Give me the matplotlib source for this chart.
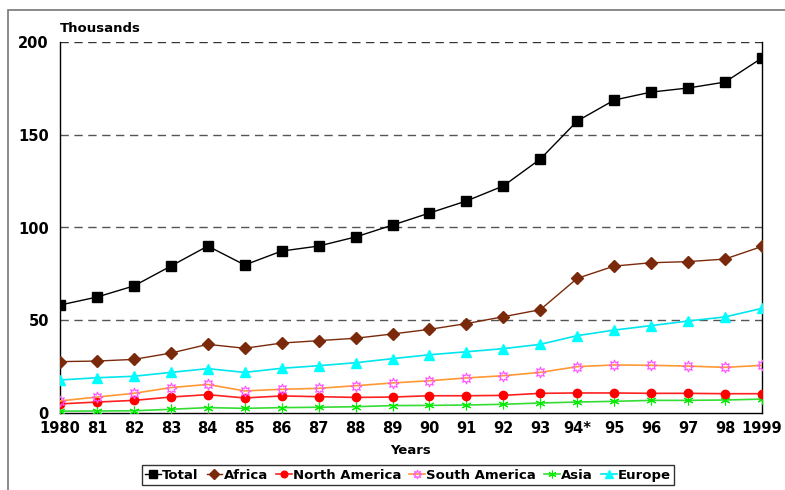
import matplotlib
matplotlib.use('Agg')
import matplotlib.pyplot as plt
from matplotlib.patches import Rectangle

years = ['1980', '81', '82', '83', '84', '85', '86', '87', '88', '89',
         '90', '91', '92', '93', '94*', '95', '96', '97', '98', '1999']

total = [58.2, 62.5, 68.5, 79.2, 90.0, 79.8, 87.3, 90.0, 94.9, 101.3,
         107.8, 114.3, 122.4, 136.9, 157.4, 168.7, 173.0, 175.2, 178.4, 191.4]
africa = [27.7, 28.0, 28.9, 32.3, 37.0, 34.9, 37.7, 39.0, 40.3, 42.6,
          45.1, 48.2, 51.9, 55.7, 72.6, 79.2, 81.0, 81.6, 83.0, 89.8]
north_america = [4.9, 5.9, 6.8, 8.6, 9.9, 8.1, 9.2, 8.8, 8.4, 8.6,
                 9.3, 9.3, 9.5, 10.6, 10.8, 10.8, 10.6, 10.6, 10.4, 10.4]
south_america = [6.5, 8.6, 10.6, 13.7, 15.4, 11.9, 12.8, 13.3, 14.7, 16.2,
                 17.4, 18.9, 20.1, 21.9, 25.0, 25.9, 25.7, 25.3, 24.6, 25.7]
asia = [1.0, 1.1, 1.2, 2.0, 2.9, 2.5, 2.9, 3.1, 3.4, 4.0,
        4.1, 4.3, 4.7, 5.4, 5.9, 6.3, 6.8, 6.8, 7.0, 7.5]
europe = [17.8, 19.0, 19.8, 21.9, 23.9, 21.9, 24.1, 25.5, 27.1, 29.3,
          31.4, 33.0, 34.7, 37.0, 41.7, 44.7, 47.1, 49.6, 51.8, 56.4]

plt.rcParams['font.family'] = ['Verdana', 'DejaVu Sans']
plt.rcParams['font.weight'] = 'bold'

fig = plt.figure(figsize=(7.85, 4.9), dpi=100)
ax = fig.add_axes([60/785, 1 - 413/490, 702/785, 371/490])

# thin grey frame around the whole chart
fig.patches.append(Rectangle((8/785, -0.1), 1.2, (490 - 10)/490 + 0.1,
                             transform=fig.transFigure, fill=False,
                             edgecolor='#777777', linewidth=1.2))

x = list(range(len(years)))

ax.plot(x, total, color='black', lw=1, marker='s', ms=7,
        label='Total', zorder=6)
ax.plot(x, africa, color='#7a2a0a', lw=1, marker='D', ms=6,
        label='Africa', zorder=5)
ax.plot(x, north_america, color='#ff2020', lw=1.2, marker='o', ms=6,
        mfc='#ff0000', mec='#ff0000', label='North America', zorder=4)
ax.plot(x, south_america, color='#ff9933', lw=1.2, marker=(8, 1, 0), ms=8,
        mfc='none', mec='#ff55ff', mew=0.8, label='South America', zorder=4)
ax.plot(x, asia, color='#33dd33', lw=1.2, marker=(6, 2, 0), ms=7,
        mec='#00ee00', mew=0.8, label='Asia', zorder=3)
ax.plot(x, europe, color='#00e5ee', lw=1.2, marker='^', ms=7,
        mfc='#00ffff', mec='#00ffff', label='Europe', zorder=4)

ax.set_xlim(0, len(years) - 1)
ax.set_ylim(0, 200)
ax.set_yticks([0, 50, 100, 150, 200])
ax.set_xticks(x)
ax.set_xticklabels(years)
ax.tick_params(axis='both', length=0, labelsize=10.5)
ax.tick_params(axis='x', pad=6)
ax.tick_params(axis='y', pad=8)

for v in [50, 100, 150, 200]:
    ax.axhline(v, color='#555555' if v < 200 else '#333333', lw=1,
               ls=(0, (6, 4)), zorder=1)

ax.spines['top'].set_visible(False)
for s in ['left', 'right', 'bottom']:
    ax.spines[s].set_linewidth(1)
    ax.spines[s].set_color('black')

fig.text(60/785, 1 - 28/490, 'Thousands', fontsize=9.5, fontweight='bold',
         va='center', ha='left')
fig.text(411/785, 1 - 450/490, 'Years', fontsize=9.5, fontweight='bold',
         va='center', ha='center')

leg = fig.legend(loc='center', bbox_to_anchor=(408/785, 1 - 475/490),
                 ncol=6, fontsize=9.5, frameon=True, fancybox=False,
                 edgecolor='black', handlelength=1.2, handletextpad=0.1,
                 columnspacing=0.6, borderpad=0.25, borderaxespad=0,
                 markerscale=0.8)
leg.get_frame().set_linewidth(1)

fig.savefig('out.png', dpi=100)
